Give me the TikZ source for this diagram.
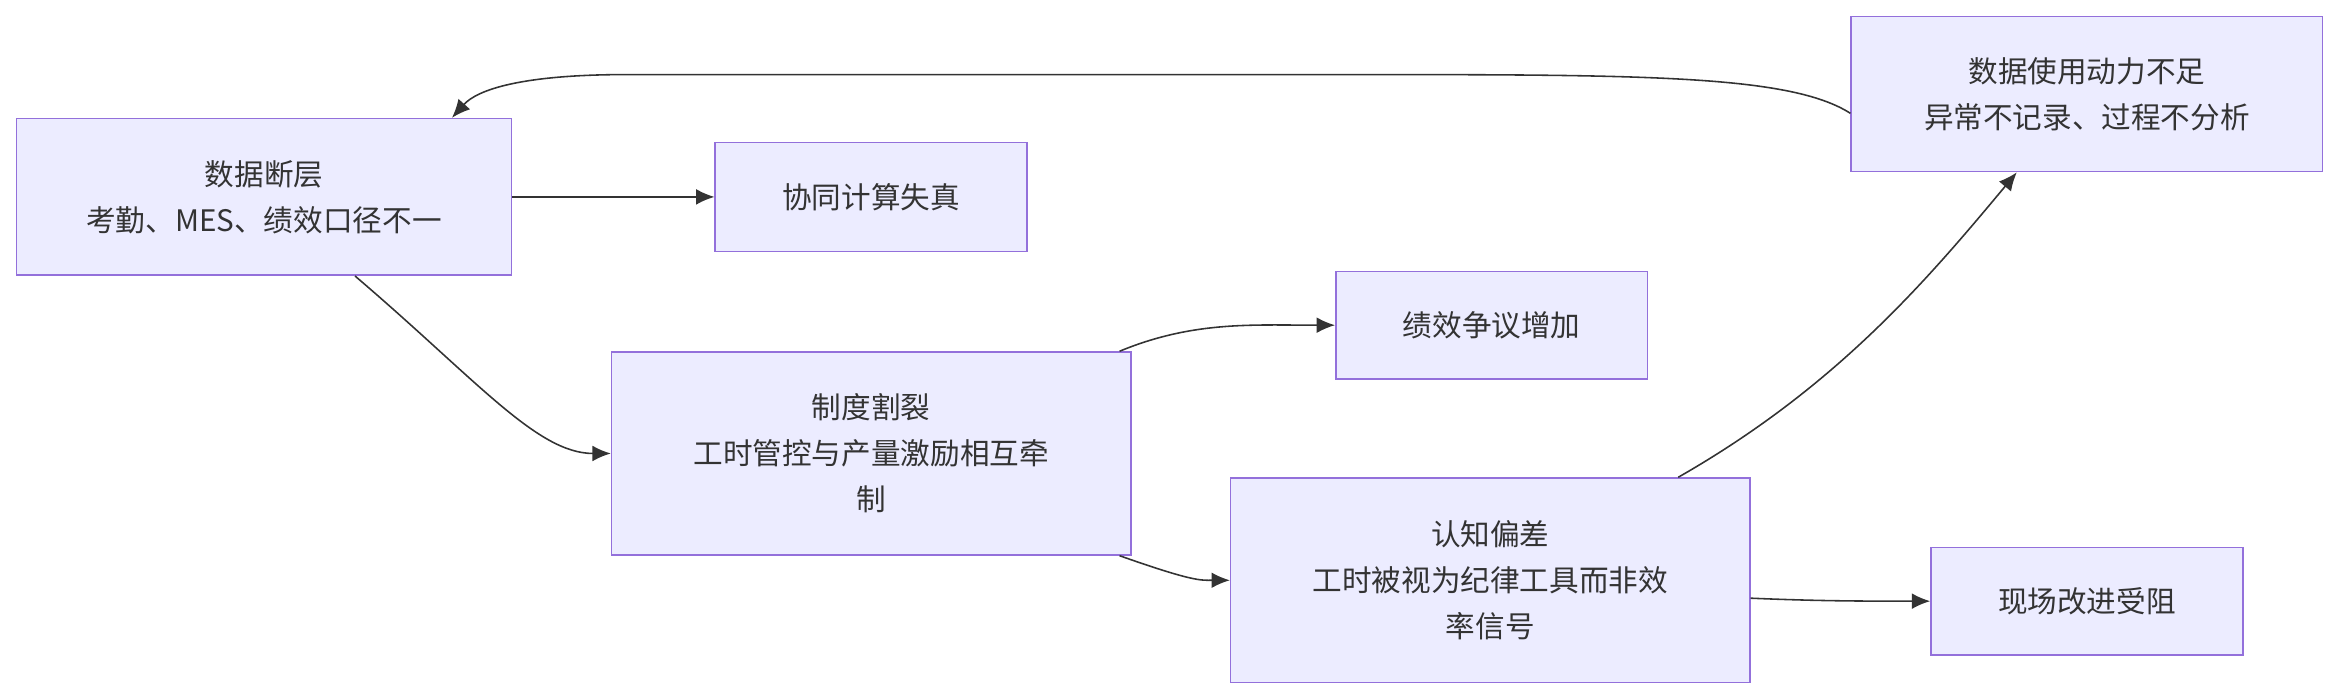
\documentclass[tikz,border=0pt]{standalone}
\usepackage{fontspec}
\setmainfont{Noto Sans CJK SC}
\usetikzlibrary{arrows.meta}
\definecolor{boxfill}{HTML}{ECECFF}
\definecolor{boxline}{HTML}{9370DB}
\definecolor{edge}{HTML}{333333}
\begin{document}
\begin{tikzpicture}[x=0.02cm,y=-0.02cm,
  box/.style={draw=boxline,fill=boxfill,line width=0.6pt,align=center,inner sep=0pt,font=\fontsize{11.3}{17.5}\selectfont,text=edge},
  conn/.style={draw=edge,line width=0.6pt,-{Latex[length=7pt,width=6pt]}}]
\useasboundingbox (0,0) rectangle (1568,469);
\node[box,minimum width=332*0.02cm,minimum height=105*0.02cm] (A) at (177,132) {数据断层\\考勤、MES、绩效口径不一};
\node[box,minimum width=209*0.02cm,minimum height=73*0.02cm] (B) at (584,132) {协同计算失真};
\node[box,minimum width=348*0.02cm,minimum height=136*0.02cm] (C) at (584,304) {制度割裂\\工时管控与产量激励相互牵\\制};
\node[box,minimum width=209*0.02cm,minimum height=72*0.02cm] (D) at (1000,218) {绩效争议增加};
\node[box,minimum width=348*0.02cm,minimum height=137*0.02cm] (E) at (999,389) {认知偏差\\工时被视为纪律工具而非效\\率信号};
\node[box,minimum width=209*0.02cm,minimum height=72*0.02cm] (F) at (1399,403) {现场改进受阻};
\node[box,minimum width=316*0.02cm,minimum height=104*0.02cm] (G) at (1399,63) {数据使用动力不足\\异常不记录、过程不分析};
\draw[conn] (A.east) -- (B.west);
\draw[conn] (A.south)++(61,0) .. controls (320,255) and (360,304) .. (C.west);
\draw[conn] (C.north east)++(-8,0) .. controls (800,215) and (840,218) .. (D.west);
\draw[conn] (C.south east)++(-8,0) .. controls (800,390) and (805,389) .. (E.west);
\draw[conn] (E.east)++(0,12) .. controls (1220,403) and (1250,403) .. (F.west);
\draw[conn] (E.north)++(126,0) .. controls (1230,260) and (1290,190) .. ([xshift=-47*0.02cm]G.south);
\draw[conn] ([yshift=-13*0.02cm]G.west) .. controls (1200,50) and (1100,50) .. (900,50) -- (420,50) .. controls (350,50) and (320,60) .. ([xshift=126*0.02cm]A.north);
\end{tikzpicture}
\end{document}
